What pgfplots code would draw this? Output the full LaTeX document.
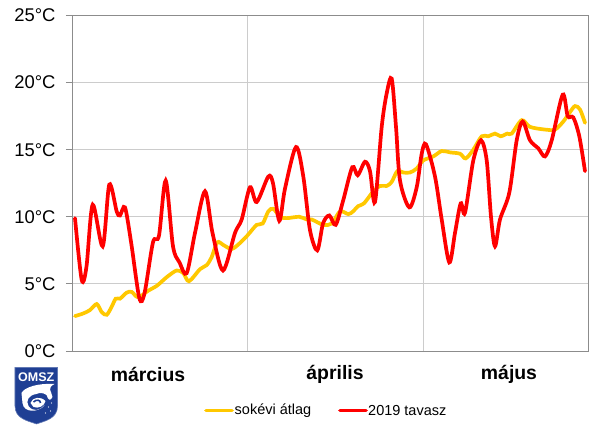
\documentclass[border=0pt]{standalone}
\usepackage{pgfplots}
\pgfplotsset{compat=1.18}
\usepackage{fontspec}
\setmainfont{Liberation Sans}
\definecolor{avg}{HTML}{FFC800}
\definecolor{shield}{HTML}{1F3F94}
\begin{document}
\begin{tikzpicture}[x=1pt,y=1pt]
\path[use as bounding box] (-72.5,-82) rectangle (532.5,351);
\begin{axis}[
  at={(0,0)},anchor=south west,
  scale only axis,width=515.5pt,height=335.5pt,
  xmin=0,xmax=515.5,ymin=0,ymax=25,
  clip=false,
  axis line style={color=black!45,line width=0.9pt},
  ytick={0,5,10,15,20,25},
  yticklabel={\pgfmathprintnumber{\tick}°C},
  yticklabel style={font=\fontsize{18.4}{18.4}\selectfont,/pgf/number format/assume math mode=true,text=black,xshift=-7pt},
  tick align=outside,
  major tick length=6.5pt,
  ymajorgrids,xmajorgrids,
  xtick={174.5,350.5},xticklabels={},
  x tick style={draw=none},
  y tick style={draw=black!45,line width=0.8pt},
  grid style={color=black!20,line width=0.8pt},
  ytick pos=left,
]
\addplot[draw=avg,line width=3.7pt,smooth,tension=0.5,line cap=round] coordinates {
(2.5,2.6)(10.8,2.8)(17.5,3.05)(24.2,3.5)(29.2,2.9)(34.2,2.7)(39.2,3.3)(43.2,3.9)(47.5,3.9)(54.2,4.35)(59.2,4.4)(65.8,4.0)(75.8,4.5)(84.2,4.85)(94.2,5.5)(104.2,6.0)(110.8,5.8)(116.5,5.2)(127.5,6.1)(134.2,6.4)(139.2,7.0)(144.8,8.1)(150.8,7.9)(159.2,7.6)(167.5,8.05)(174.8,8.6)(184.2,9.4)(190.2,9.5)(195.8,10.4)(200.8,10.6)(207.5,10)(214.2,9.9)(226.8,10)(234.2,9.8)(239.2,9.8)(250.8,9.4)(259.2,9.5)(267.5,10.4)(275.8,10.2)(280.5,10.4)(285.8,10.8)(291.5,11)(300.8,11.9)(307.5,12.3)(314.2,12.3)(319.2,12.6)(324.8,13.4)(330.8,13.3)(337.5,13.3)(344.2,13.6)(350.8,14.2)(360.8,14.5)(369.2,14.9)(377.5,14.8)(387.5,14.7)(393.2,14.35)(400.8,15)(409.2,16)(415.8,16)(422.5,16.2)(428.2,16)(434.8,16.2)(439.2,16.2)(449.2,17.2)(457.5,16.7)(472.5,16.5)(482.5,16.5)(490.8,17.1)(497.5,17.8)(502.5,18.25)(507.5,18)(512.5,17)
};
\addplot[draw=red,line width=3.7pt,smooth,tension=0.5,line cap=round] coordinates {
(2.5,9.9)(9.2,5.3)(14,6.3)(20.2,10.9)(30.2,7.8)(36.8,12.4)(44.2,10.4)(47.5,10.1)(52.5,10.7)(58.8,8.0)(66.8,3.95)(72,4.3)(80.5,8.1)(86.5,8.6)(93.2,12.7)(100.5,7.8)(107,6.6)(114.2,5.8)(122.5,8.8)(132.5,11.9)(140,8.8)(150.5,6.0)(162.5,8.8)(169.2,9.8)(177.5,12.2)(184.2,11.1)(195.8,13.0)(200.5,12.5)(206.8,9.7)(212.5,12.1)(223.5,15.2)(230.8,13)(237.5,9.0)(244.8,7.5)(250.5,9.5)(256.8,10.1)(263.2,9.4)(270.8,11.25)(279.8,13.7)(285.2,13.1)(292.5,14.1)(297.5,13.4)(302.5,11.1)(309.2,16.7)(314.2,19.2)(319.2,20.3)(323.5,16.7)(327.5,12.7)(336.8,10.7)(344.2,12.2)(349.2,14.7)(353.5,15.4)(362.5,13)(369.2,9.8)(376.8,6.6)(382.5,8.8)(388.2,11)(392.5,10.3)(400.8,14.2)(408.5,15.7)(414.2,14.2)(418.5,10)(422.5,7.8)(427.5,9.8)(436.8,11.8)(444.2,15.7)(450.2,17.1)(457.5,15.7)(465.8,15.1)(472.5,14.5)(479.2,15.7)(490.2,19.1)(495.2,17.5)(500.8,17.4)(506.8,16)(512.5,13.4)
};
\node[font=\fontsize{19.4}{19.4}\selectfont\bfseries] at (axis cs:75.5,-1.75) {március};
\node[font=\fontsize{19.4}{19.4}\selectfont\bfseries] at (axis cs:262.5,-1.75) {április};
\node[font=\fontsize{19.4}{19.4}\selectfont\bfseries] at (axis cs:436.5,-1.75) {május};
\end{axis}
% legend
\draw[avg,line width=3.7pt,line cap=round] (133.5,-59.5) -- (159.5,-59.5);
\node[anchor=west,inner sep=0pt,font=\fontsize{14.5}{14.5}\selectfont] at (162,-60) {sokévi átlag};
\draw[red,line width=3.7pt,line cap=round] (267.5,-59.5) -- (293.5,-59.5);
\node[anchor=west,inner sep=0pt,font=\fontsize{14.5}{14.5}\selectfont] at (295.5,-60) {2019 tavasz};
% logo
\fill[shield,draw=shield!70,line width=0.6pt] (-57.5,-16.5) -- (-15,-16.5) -- (-15,-55)
  .. controls (-15,-68) and (-28,-70) .. (-36,-73)
  .. controls (-44,-70) and (-57.5,-68) .. (-57.5,-55) -- cycle;
\node[text=white,font=\fontsize{12.5}{12.5}\selectfont\bfseries,inner sep=0pt] at (-36.2,-26) {OMSZ};
\fill[white] (-51,-42) .. controls (-48,-36) and (-34,-32) .. (-18,-33)
  .. controls (-26,-37) and (-21,-40) .. (-20,-46)
  .. controls (-22,-50) and (-24,-50) .. (-26,-44)
  .. controls (-30,-41) and (-34,-42) .. (-36,-43)
  .. controls (-44,-44) and (-47,-50) .. (-44,-55)
  .. controls (-40,-61) and (-32,-60) .. (-28,-54)
  .. controls (-34,-62) and (-49,-62) .. (-50,-52) -- cycle;
\fill[white] (-42,-52) .. controls (-40,-46) and (-32,-45) .. (-27,-50)
  .. controls (-28,-55) and (-34,-58) .. (-39,-56) -- cycle;
\draw[shield,line width=1.6pt] (-39,-51) .. controls (-36,-48) and (-32,-49) .. (-32,-52);
\foreach \p/\q in {-24/-56,-21/-52,-27/-62,-22/-60}{\fill[white] (\p,\q) circle (0.7);}
\end{tikzpicture}
\end{document}
